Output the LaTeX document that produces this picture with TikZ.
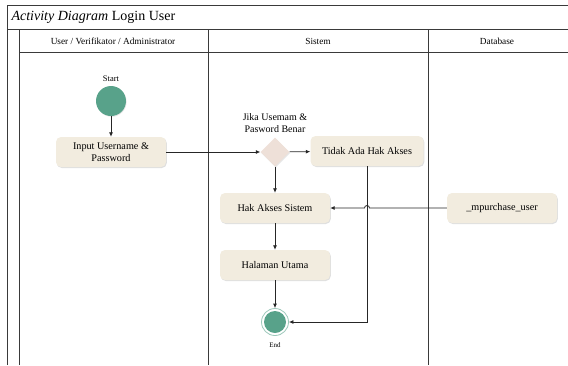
\documentclass[tikz,border=0pt]{standalone}
\usepackage{fontspec}
\setmainfont{Liberation Serif}
\usetikzlibrary{shapes.geometric,arrows.meta,shadows}
\definecolor{boxfill}{HTML}{F2ECDF}
\definecolor{nodegreen}{HTML}{58A28A}
\definecolor{decfill}{HTML}{EEE0D8}
\definecolor{frameline}{HTML}{3A3A3A}
\tikzset{
  lane/.style={draw=frameline, line width=0.9pt},
  actbox/.style={rectangle, rounded corners=5pt, fill=boxfill, minimum width=110pt,
    minimum height=30pt, align=center, font=\fontsize{10.2}{11.5}\selectfont,
    drop shadow={shadow xshift=0.8pt, shadow yshift=-1pt, opacity=0.25, fill=gray}},
  decision/.style={diamond, fill=decfill, minimum width=29pt, minimum height=29pt, inner sep=0pt,
    drop shadow={shadow xshift=0.8pt, shadow yshift=-1pt, opacity=0.2, fill=gray}},
  arr/.style={draw=black!85, line width=0.8pt, -{Latex[length=4.5pt,width=4pt]}},
  lbl/.style={font=\fontsize{9.3}{11}\selectfont, align=center},
}
\begin{document}
\begin{tikzpicture}[x=1pt,y=1pt]
\useasboundingbox (0,0) rectangle (568,-365);
% swimlane frame
\draw[lane] (7,-365) -- (7,-5) -- (568,-5);
\draw[lane] (7,-29) -- (568,-29);
\draw[lane] (19,-365) -- (19,-29);
\draw[lane] (19,-52) -- (568,-52);
\draw[lane] (208,-29) -- (208,-365);
\draw[lane] (428,-29) -- (428,-365);
\node[anchor=west, font=\fontsize{14}{16}\selectfont] (title) at (8,-17) {\textit{Activity Diagram} Login User};
\node[lbl] (h1) at (113,-41) {User / Verifikator / Administrator};
\node[lbl] (h2) at (318,-41) {Sistem};
\node[lbl] (h3) at (497,-41) {Database};
% activity nodes
\node[font=\fontsize{8.5}{10}\selectfont] (startlbl) at (111,-79) {Start};
\node[circle, fill=nodegreen, minimum size=30pt, inner sep=0pt,
  drop shadow={shadow xshift=0.6pt, shadow yshift=-0.8pt, opacity=0.2, fill=gray}] (start) at (111,-101) {};
\node[actbox] (input) at (111,-152) {Input Username \&\\Password};
\node[decision] (dec) at (275,-152) {};
\node[font=\fontsize{10}{12}\selectfont, align=center] (declbl) at (275,-123) {Jika Usemam \&\\Pasword Benar};
\node[actbox, minimum width=113pt] (tidak) at (367,-151) {Tidak Ada Hak Akses};
\node[actbox] (hak) at (275,-208) {Hak Akses Sistem};
\node[actbox] (halaman) at (275,-265) {Halaman Utama};
\node[actbox] (mp) at (502,-208) {\_mpurchase\_user};
\node[circle, draw=nodegreen!60, line width=0.8pt, fill=white, minimum size=27pt, inner sep=0pt] (end) at (275,-322) {};
\node[circle, fill=nodegreen, minimum size=22pt, inner sep=0pt] (endin) at (end.center) {};
\node[font=\fontsize{7}{8}\selectfont] (endlbl) at (275,-345) {End};
% flows
\draw[arr] (start) -- (input);
\draw[arr] (input) -- (dec);
\draw[arr] (dec) -- (tidak);
\draw[arr] (dec) -- (hak);
\draw[arr] (hak) -- (halaman);
\draw[arr] (halaman) -- (end);
\draw[arr] (tidak.south) |- (end.east);
\draw[arr] (mp.west) -- (369.5,-208) arc[start angle=0, end angle=180, radius=2.5] -- (hak.east);
\end{tikzpicture}
\end{document}
